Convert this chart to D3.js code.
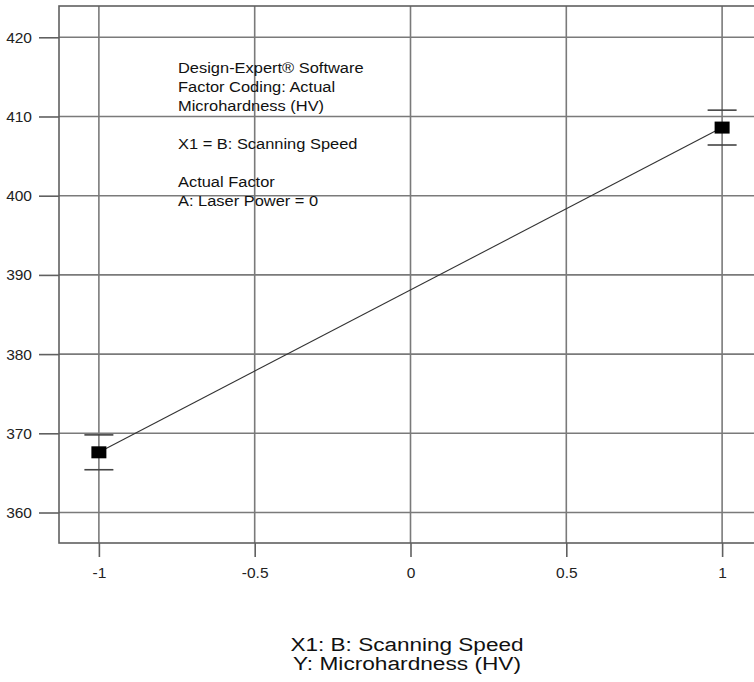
<!DOCTYPE html>
<html>
<head>
<meta charset="utf-8">
<script src="https://cdn.jsdelivr.net/npm/d3@7"></script>
<style>
  html, body { margin: 0; padding: 0; background: #fff; }
  svg { display: block; font-family: "Liberation Sans", Arial, sans-serif; }
</style>
</head>
<body>
<svg id="chart" width="754" height="682"></svg>
<script>
// One-factor effect plot: predicted microhardness vs coded scanning speed
const factorLevels = [-1, 1];
const meanHV = [367.6, 408.6];
const ciHalfWidth = [2.2, 2.2];

const xTicks = [-1, -0.5, 0, 0.5, 1];
const xTickLabels = ["-1", "-0.5", "0", "0.5", "1"];
const yTicks = [360, 370, 380, 390, 400, 410, 420];

const legendLines = [
  "Design-Expert\u00AE Software",
  "Factor Coding: Actual",
  "Microhardness (HV)",
  "",
  "X1 = B: Scanning Speed",
  "",
  "Actual Factor",
  "A: Laser Power = 0"
];
const axisTitleLines = ["X1: B: Scanning Speed", "Y: Microhardness (HV)"];
const axisTitleWidths = [233, 228];

const svg = d3.select("#chart");
const frame = { left: 59, right: 762, top: 6, bottom: 543 };

const x = d3.scaleLinear().domain([-1.128, 1.128]).range([frame.left, frame.right]);
const y = d3.scaleLinear().domain([356.15, 423.95]).range([frame.bottom, frame.top]);

const gridColor = "#7a7a7a";

// grid
const grid = svg.append("g");
grid.selectAll("line.h").data(yTicks).join("line")
  .attr("x1", frame.left).attr("x2", frame.right)
  .attr("y1", d => y(d)).attr("y2", d => y(d))
  .attr("stroke", gridColor).attr("stroke-width", 1.6);
grid.selectAll("line.v").data(xTicks).join("line")
  .attr("x1", d => x(d)).attr("x2", d => x(d))
  .attr("y1", frame.top).attr("y2", frame.bottom)
  .attr("stroke", gridColor).attr("stroke-width", 1.6);

// frame
svg.append("rect")
  .attr("x", frame.left).attr("y", frame.top)
  .attr("width", frame.right - frame.left).attr("height", frame.bottom - frame.top)
  .attr("fill", "none").attr("stroke", "#606060").attr("stroke-width", 1.6);

// axes
const yAxis = d3.axisLeft(y).tickValues(yTicks).tickSize(20).tickPadding(7);
const gy = svg.append("g").attr("transform", `translate(${frame.left},0)`).call(yAxis);
const xAxis = d3.axisBottom(x).tickValues(xTicks).tickFormat((d, i) => xTickLabels[i]).tickSize(14).tickPadding(10);
const gx = svg.append("g").attr("transform", `translate(0,${frame.bottom})`).call(xAxis);
[gx, gy].forEach(g => {
  g.select(".domain").remove();
  g.selectAll(".tick line").attr("stroke", "#606060").attr("stroke-width", 1.6);
  g.selectAll(".tick text").attr("fill", "#222").style("font-size", "15.5px")
    .style("font-family", "'Liberation Sans', Arial, sans-serif");
});

// fitted line
const pts = factorLevels.map((f, i) => [x(f), y(meanHV[i])]);
svg.append("path")
  .attr("d", d3.line()(pts))
  .attr("fill", "none").attr("stroke", "#333").attr("stroke-width", 1.1);

// error bars
const capHalf = 14.5;
const eb = svg.append("g").attr("stroke", "#444").attr("stroke-width", 1.6);
factorLevels.forEach((f, i) => {
  const cx = x(f);
  const hi = y(meanHV[i] + ciHalfWidth[i]);
  const lo = y(meanHV[i] - ciHalfWidth[i]);
  eb.append("line").attr("x1", cx - capHalf).attr("x2", cx + capHalf).attr("y1", hi).attr("y2", hi);
  eb.append("line").attr("x1", cx - capHalf).attr("x2", cx + capHalf).attr("y1", lo).attr("y2", lo);
});

// design points
svg.selectAll("rect.pt").data(factorLevels).join("rect")
  .attr("x", d => x(d) - 7.5)
  .attr("y", (d, i) => y(meanHV[i]) - 6)
  .attr("width", 15).attr("height", 12)
  .attr("fill", "#000");

// annotation block (slightly wide lettering)
const noteG = svg.append("g").attr("transform", "translate(178,0) scale(1.06,1)");
const note = noteG.append("text")
  .attr("x", 0).attr("y", 72.7)
  .attr("fill", "#111").style("font-size", "15.5px");
legendLines.forEach((t, i) => {
  note.append("tspan").attr("x", 0).attr("y", 72.7 + i * 19.05).text(t);
});

// axis titles
axisTitleLines.forEach((t, i) => {
  svg.append("text")
    .attr("x", 407).attr("y", 651.3 + i * 18.4)
    .attr("text-anchor", "middle")
    .attr("textLength", axisTitleWidths[i])
    .attr("lengthAdjust", "spacingAndGlyphs")
    .attr("fill", "#111").style("font-size", "18px")
    .text(t);
});
</script>
</body>
</html>
